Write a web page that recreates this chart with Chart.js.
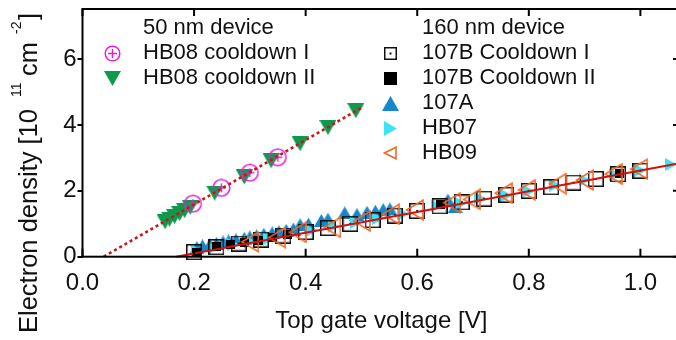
<!DOCTYPE html>
<html><head><meta charset="utf-8">
<script src="https://cdn.jsdelivr.net/npm/chart.js@4.4.1/dist/chart.umd.min.js"></script>
<style>html,body{margin:0;padding:0;background:#fff;overflow:hidden;}#wrap{width:689px;height:340px;}</style>
</head><body><div id="wrap"><canvas id="c" width="689" height="340"></canvas></div>
<script>
// ---- data ----
const xTicks = [0, 0.2, 0.4, 0.6, 0.8, 1.0];
const yTicks = [0, 2, 4, 6];

const hb08c1X = [0.198, 0.249, 0.300, 0.350];
const hb08c1Y = [1.61, 2.09, 2.55, 3.02];

const hb08c2X = [0.148, 0.156, 0.165, 0.174, 0.183, 0.193, 0.237, 0.290, 0.338, 0.390, 0.440, 0.490];
const hb08c2Y = [1.06, 1.14, 1.22, 1.31, 1.40, 1.50, 1.93, 2.42, 2.91, 3.43, 3.92, 4.43];

const fit50X = [0.038, 0.500];
const fit50Y = [0, 4.52];

const c107B1X = [0.20,0.24,0.28,0.32,0.36,0.40,0.44,0.48,0.52,0.56,0.60,0.64,0.68,0.72,0.76,0.80,0.84,0.88,0.92,0.96,1.00];
const c107B1Y = [0.14,0.29,0.40,0.52,0.64,0.75,0.87,1.00,1.11,1.25,1.39,1.53,1.65,1.76,1.88,2.00,2.11,2.25,2.36,2.50,2.61];

const c107B2X = [0.205,0.240,0.265,0.290,0.315,0.340,0.368,0.641,0.962];
const c107B2Y = [0.14,0.30,0.37,0.44,0.50,0.58,0.66,1.59,2.53];

const a107X = [0.205,0.215,0.228,0.240,0.252,0.262,0.275,0.290,0.300,0.312,0.325,0.340,0.352,0.365,0.378,0.390,0.405,0.428,0.440,0.470,0.492,0.510,0.525,0.539,0.551,0.655,0.668];
const a107Y = [0.28,0.33,0.36,0.40,0.45,0.48,0.52,0.56,0.60,0.63,0.68,0.72,0.76,0.80,0.84,0.97,0.99,1.10,1.14,1.33,1.28,1.35,1.38,1.43,1.45,1.72,1.52];

const hb07X = [0.205,0.235,0.270,0.300,0.335,0.370,0.410,0.450,0.490,0.530,0.575,0.635,0.678,0.712,0.760,0.800,0.847,0.900,0.954,1.000,1.055];
const hb07Y = [0.17,0.26,0.37,0.47,0.56,0.68,0.79,0.92,1.04,1.16,1.30,1.55,1.62,1.78,1.86,1.99,2.17,2.33,2.49,2.62,2.80];

const hb09X = [0.300,0.348,0.385,0.447,0.500,0.552,0.595,0.662,0.697,0.754,0.796,0.851,0.900,0.951,0.997];
const hb09Y = [0.45,0.58,0.74,0.89,1.08,1.29,1.42,1.64,1.74,1.93,2.03,2.22,2.33,2.51,2.66];

const fit160X = [0.168, 1.075];
const fit160Y = [0, 2.85];

const group50Header = '50 nm device';
const group50Labels = ['HB08 cooldown I', 'HB08 cooldown II'];
const group160Header = '160 nm device';
const group160Labels = ['107B Cooldown I', '107B Cooldown II', '107A', 'HB07', 'HB09'];

// ---- marker images ----
const FONT = '"Liberation Sans", Arial, sans-serif';
const COL = {mag:'#e41fdc', green:'#0e9a4d', blue:'#1787cb', cyan:'#3ee4f4', orange:'#f4692a', red:'#d01212'};
function mk(w,h,draw){const c=document.createElement('canvas');c.width=w;c.height=h;draw(c.getContext('2d'),w,h);return c;}
function circlePlus(s){return mk(s,s,(g,w,h)=>{g.strokeStyle=COL.mag;g.lineWidth=1.5;g.beginPath();g.arc(w/2,h/2,w/2-1.2,0,Math.PI*2);g.stroke();g.beginPath();g.moveTo(w/2,h/2-4.5);g.lineTo(w/2,h/2+4.5);g.moveTo(w/2-4.5,h/2);g.lineTo(w/2+4.5,h/2);g.stroke();});}
function downTri(w,h){return mk(w,h,(g)=>{g.fillStyle=COL.green;g.beginPath();g.moveTo(0,0);g.lineTo(w,0);g.lineTo(w/2,h);g.closePath();g.fill();});}
function upTri(w,h){return mk(w,h,(g)=>{g.fillStyle=COL.blue;g.beginPath();g.moveTo(0,h);g.lineTo(w,h);g.lineTo(w/2,0);g.closePath();g.fill();});}
function rightTri(w,h){return mk(w,h,(g)=>{g.fillStyle=COL.cyan;g.beginPath();g.moveTo(0,0);g.lineTo(0,h);g.lineTo(w,h/2);g.closePath();g.fill();});}
function leftTri(w,h){return mk(w,h,(g)=>{g.strokeStyle=COL.orange;g.lineWidth=1.6;g.lineJoin='miter';g.beginPath();g.moveTo(w-1,1.2);g.lineTo(w-1,h-1.2);g.lineTo(1.5,h/2);g.closePath();g.stroke();});}
function squareDot(s){return mk(s,s,(g,w)=>{g.strokeStyle='#111';g.lineWidth=1.5;g.strokeRect(0.75,0.75,w-1.5,w-1.5);g.fillStyle='#111';g.fillRect(w/2-1,w/2-1,2,2);});}
function blackSq(s){return mk(s,s,(g,w)=>{g.fillStyle='#000';g.fillRect(0,0,w,w);});}

const plotMarks = {
  c1: circlePlus(19), c2: downTri(17,15), s1: squareDot(16), s2: blackSq(9),
  a: upTri(15,13), h7: rightTri(12,13), h9: leftTri(19,22)
};
const legendMarks = {
  c1: circlePlus(17), c2: downTri(17,15), s1: squareDot(13), s2: blackSq(13),
  a: upTri(17,15), h7: rightTri(13,15), h9: leftTri(14,14)
};

function pts(xs, ys){ return xs.map((x,i)=>({x:x, y:ys[i]})); }
function sc(label, xs, ys, key, order){
  return {label, data:pts(xs,ys), pointStyle:plotMarks[key], pointRadius:8, pointHoverRadius:8, showLine:false, order, clip:false, markKey:key};
}
function ln(label, xs, ys, dash, width, order){
  return {label, data:pts(xs,ys), showLine:true, borderColor:COL.red, borderWidth:width, borderDash:dash, pointRadius:0, pointHoverRadius:0, fill:false, order, clip:false};
}

const datasets = [
  ln('fit 160 nm', fit160X, fit160Y, [], 2, 0),
  ln('fit 50 nm', fit50X, fit50Y, [3,3], 2.5, 1),
  sc(group50Labels[0], hb08c1X, hb08c1Y, 'c1', 2),
  sc(group50Labels[1], hb08c2X, hb08c2Y, 'c2', 3),
  sc(group160Labels[4], hb09X, hb09Y, 'h9', 4),
  sc(group160Labels[1], c107B2X, c107B2Y, 's2', 5),
  sc(group160Labels[0], c107B1X, c107B1Y, 's1', 6),
  sc(group160Labels[3], hb07X, hb07Y, 'h7', 7),
  sc(group160Labels[2], a107X, a107Y, 'a', 8)
];

// ---- plugins ----
const framePlugin = {id:'frame', afterDraw(chart){
  const {ctx, chartArea:a, scales:{x, y}} = chart;
  ctx.save(); ctx.strokeStyle='#000'; ctx.lineWidth=2;
  ctx.strokeRect(a.left, a.top, a.right-a.left, a.bottom-a.top);
  ctx.beginPath();
  x.ticks.forEach(t=>{const px=x.getPixelForValue(t.value); ctx.moveTo(px,a.bottom); ctx.lineTo(px,a.bottom-8); ctx.moveTo(px,a.top); ctx.lineTo(px,a.top+7);});
  y.ticks.forEach(t=>{const py=y.getPixelForValue(t.value); ctx.moveTo(a.right,py); ctx.lineTo(a.right-7,py);});
  ctx.stroke();
  ctx.restore();
}};

const legendPlugin = {id:'twoColLegend', afterDraw(chart){
  const ctx = chart.ctx; ctx.save();
  ctx.font = '22px ' + FONT; ctx.fillStyle = '#111'; ctx.textBaseline = 'middle'; ctx.textAlign = 'left';
  const groups = [
    {header:group50Header, labels:group50Labels, markX:112, textX:143, y0:28},
    {header:group160Header, labels:group160Labels, markX:390, textX:422, y0:28}
  ];
  groups.forEach(g=>{
    ctx.fillText(g.header, g.textX, g.y0);
    g.labels.forEach((lab,i)=>{
      const y = g.y0 + 25*(i+1);
      const ds = chart.data.datasets.find(d=>d.label===lab);
      const img = legendMarks[ds.markKey];
      ctx.drawImage(img, Math.round(g.markX - img.width/2), Math.round(y - img.height/2));
      ctx.fillText(lab, g.textX, y);
    });
  });
  ctx.restore();
}};

const yTitlePlugin = {id:'yTitle', afterDraw(chart){
  const ctx = chart.ctx; ctx.save();
  ctx.translate(37, 333); ctx.rotate(-Math.PI/2);
  ctx.fillStyle = '#111'; ctx.textBaseline = 'alphabetic'; ctx.textAlign = 'left';
  const parts = [
    {t:'Electron density [10', s:25.5, u:0, dy:0},
    {t:'11', s:14, u:236, dy:-16},
    {t:'cm', s:25.5, u:257, dy:0},
    {t:'-2', s:14, u:299, dy:-16},
    {t:']', s:25.5, u:313, dy:0}
  ];
  parts.forEach(p=>{ ctx.font = p.s + 'px ' + FONT; ctx.fillText(p.t, p.u, p.dy); });
  ctx.restore();
}};

Chart.defaults.font.family = FONT;
new Chart(document.getElementById('c'), {
  type: 'scatter',
  data: {datasets},
  options: {
    responsive:false, animation:false, devicePixelRatio:1,
    layout:{padding:{top:3, right:2, left:0, bottom:0}},
    plugins:{legend:{display:false}, tooltip:{enabled:false}},
    scales:{
      x:{type:'linear', min:0, max:1.071,
        afterBuildTicks:s=>{s.ticks = xTicks.map(v=>({value:v}));},
        afterFit:s=>{s.height = 83.3; s.paddingLeft = 0; s.paddingRight = 0;},
        grid:{display:false}, border:{display:false},
        ticks:{font:{size:24}, color:'#111', padding:4, maxRotation:0, autoSkip:false, callback:v=>Number(v).toFixed(1)},
        title:{display:true, text:'Top gate voltage [V]', font:{size:24}, color:'#111', padding:{top:0, bottom:4}}
      },
      y:{type:'linear', min:0, max:7.52,
        afterBuildTicks:s=>{s.ticks = yTicks.map(v=>({value:v}));},
        afterFit:s=>{s.width = 82.5; s.paddingTop = 0; s.paddingBottom = 0;},
        grid:{display:true, drawOnChartArea:false, drawTicks:true, tickLength:5, color:'#000', lineWidth:2},
        border:{display:false},
        ticks:{font:{size:24}, color:'#111', padding:1, callback:v=>String(v)}
      }
    }
  },
  plugins:[framePlugin, legendPlugin, yTitlePlugin]
});
</script>
</body></html>
